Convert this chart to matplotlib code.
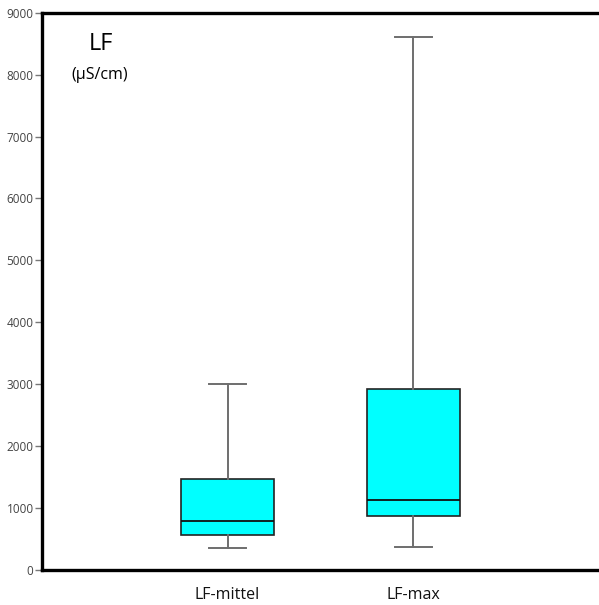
import numpy as np
import matplotlib
matplotlib.use("Agg")
import matplotlib.pyplot as plt

# box plot summary values for conductivity (LF)
labels = ["LF-mittel", "LF-max"]
whislo = [355, 370]
q1 = [565, 865]
med = [790, 1130]
q3 = [1465, 2920]
whishi = [3000, 8600]

plt.rcParams['font.family'] = ['Open Sans', 'DejaVu Sans']

fig = plt.figure(figsize=(5.99, 6.05), dpi=100)
ax = fig.add_axes([0.070, 0.058, 0.930, 0.921])

stats = []
for i in range(len(labels)):
    stats.append(dict(label=labels[i], whislo=whislo[i], q1=q1[i], med=med[i],
                      q3=q3[i], whishi=whishi[i], fliers=[]))

ax.bxp(stats, positions=[1, 2], widths=0.5, patch_artist=True, showfliers=False,
       boxprops=dict(facecolor='#00ffff', edgecolor='#222222', linewidth=1.2),
       medianprops=dict(color='#111111', linewidth=1.3),
       whiskerprops=dict(color='#6e6e6e', linewidth=1.4),
       capprops=dict(color='#6e6e6e', linewidth=1.4),
       capwidths=0.2)

ax.set_xlim(0, 3)
ax.set_ylim(0, 9000)
ax.set_yticks(np.arange(0, 9001, 1000))
ax.tick_params(axis='y', length=5, width=1, color='#777777', labelsize=8.5,
               labelcolor='#444444', pad=1)
ax.tick_params(axis='x', length=0, labelsize=11.5, labelcolor='#111111', pad=12)

for s in ['left', 'bottom', 'top']:
    ax.spines[s].set_linewidth(2.4)
    ax.spines[s].set_color('black')
ax.spines['right'].set_visible(False)

ax.text(0.32, 8500, "LF", fontsize=17, ha='center', va='center')
ax.text(0.31, 8000, "(µS/cm)", fontsize=11.5, ha='center', va='center')

fig.savefig("out.png", dpi=100)
